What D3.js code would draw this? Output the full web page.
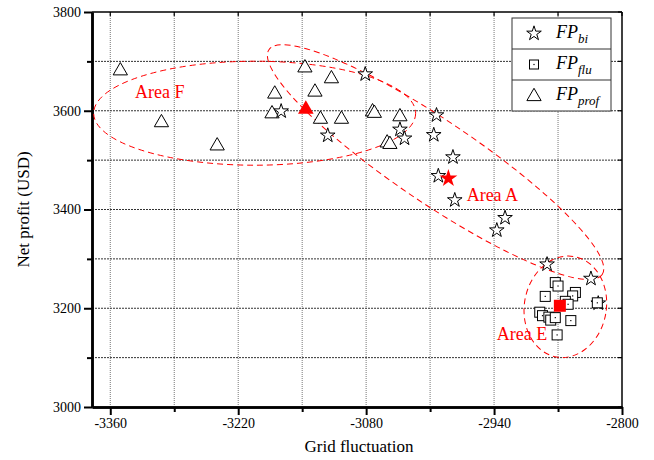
<!DOCTYPE html>
<html>
<head>
<meta charset="utf-8">
<script src="https://cdn.jsdelivr.net/npm/d3@7"></script>
<style>
  html, body { margin: 0; padding: 0; background: #fff; }
  svg { display: block; }
  text { font-family: "Liberation Serif", "Times New Roman", serif; }
</style>
</head>
<body>
<svg id="chart" width="654" height="460"></svg>
<script>
// ---------- data ----------
const biX   = [-3173, -3122, -3081, -3043, -3038, -3003, -3006, -2985, -3001, -2983, -2928, -2937, -2882, -2834, -2826];
const biY   = [ 3601,  3552,  3676,  3564,  3546,  3593,  3553,  3508,  3470,  3421,  3385,  3360,  3291,  3262,  3212];
const fluX  = [-2873, -2870, -2851, -2854, -2884, -2862, -2859, -2827, -2890, -2887, -2880, -2878, -2873, -2856, -2871];
const fluY  = [ 3252,  3245,  3232,  3225,  3224,  3214,  3208,  3211,  3192,  3185,  3182,  3176,  3181,  3175,  3146];
const profX = [-3349, -3304, -3243, -3180, -3183, -3147, -3136, -3118, -3130, -3107, -3073, -3071, -3043, -3057, -3054];
const profY = [ 3684,  3579,  3532,  3637,  3597,  3690,  3641,  3668,  3586,  3586,  3601,  3598,  3591,  3538,  3535];
// centroids (red filled markers)
const centroidBi   = [-2990, 3465];
const centroidFlu  = [-2868, 3205];
const centroidProf = [-3146, 3606];

const xMajorTicks = [-3360, -3220, -3080, -2940, -2800];
const xMinorTicks = [-3290, -3150, -3010, -2870];
const yMajorTicks = [3000, 3200, 3400, 3600, 3800];
const yMinorTicks = [3100, 3300, 3500, 3700];
const xGrid = [-3360, -3290, -3220, -3150, -3080, -3010, -2940, -2870];
const yGrid = [3100, 3200, 3300, 3400, 3500, 3600, 3700];

const areaNames   = ["Area F", "Area A", "Area E"];
const areaCenters = [[-3202, 3595], [-3004, 3496], [-2862, 3203]];
const areaLabelAt = [[-3333, 3626], [-2970, 3417], [-2937, 3136]];

const legendLabels = [["FP", "bi"], ["FP", "flu"], ["FP", "prof"]];
const xTitle = "Grid fluctuation";
const yTitle = "Net profit (USD)";

// ---------- layout ----------
const svg = d3.select("#chart");
const L = 92, R = 622, T = 12, B = 407;
const x = d3.scaleLinear().domain([-3380, -2800]).range([L, R]);
const y = d3.scaleLinear().domain([3000, 3800]).range([B, T]);
const RED = "#ff0000";

// grid
svg.append("g").selectAll("line").data(xGrid).join("line")
  .attr("x1", d => x(d)).attr("x2", d => x(d)).attr("y1", T).attr("y2", B)
  .attr("stroke", "#777").attr("stroke-width", 1).attr("stroke-dasharray", "1,1");
svg.append("g").selectAll("line").data(yGrid).join("line")
  .attr("x1", L).attr("x2", R).attr("y1", d => y(d)).attr("y2", d => y(d))
  .attr("stroke", "#333").attr("stroke-width", 1).attr("stroke-dasharray", "2,1");

// frame top/right
svg.append("line").attr("x1", L).attr("x2", R).attr("y1", T).attr("y2", T).attr("stroke", "#000").attr("stroke-width", 1.5);
svg.append("line").attr("x1", R).attr("x2", R).attr("y1", T).attr("y2", B).attr("stroke", "#000").attr("stroke-width", 1.5);
// inward mirrored ticks
svg.append("g").selectAll("line").data(xMajorTicks.concat(xMinorTicks)).join("line")
  .attr("x1", d => x(d)).attr("x2", d => x(d)).attr("y1", T).attr("y2", T + 4).attr("stroke", "#000").attr("stroke-width", 1.2);
svg.append("g").selectAll("line").data(yMajorTicks.concat(yMinorTicks)).join("line")
  .attr("x1", R).attr("x2", R - 4).attr("y1", d => y(d)).attr("y2", d => y(d)).attr("stroke", "#000").attr("stroke-width", 1.2);

// axes
const xAxis = svg.append("g").attr("transform", `translate(0,${B})`)
  .call(d3.axisBottom(x).tickValues(xMajorTicks).tickSize(8).tickPadding(3).tickSizeOuter(0).tickFormat(d3.format("d")));
const xAxisMinor = svg.append("g").attr("transform", `translate(0,${B})`)
  .call(d3.axisBottom(x).tickValues(xMinorTicks).tickSize(5).tickSizeOuter(0).tickFormat(""));
const yAxis = svg.append("g").attr("transform", `translate(${L},0)`)
  .call(d3.axisLeft(y).tickValues(yMajorTicks).tickSize(8).tickPadding(3).tickSizeOuter(0).tickFormat(d3.format("d")));
const yAxisMinor = svg.append("g").attr("transform", `translate(${L},0)`)
  .call(d3.axisLeft(y).tickValues(yMinorTicks).tickSize(5).tickSizeOuter(0).tickFormat(""));
[xAxis, xAxisMinor, yAxis, yAxisMinor].forEach(g => {
  g.attr("font-family", "Liberation Serif");
  g.select(".domain").attr("stroke", "#000").attr("stroke-width", 2.5);
  g.selectAll(".tick line").attr("stroke", "#000").attr("stroke-width", 2);
  g.selectAll("text").attr("font-family", "Liberation Serif").attr("font-size", 14).attr("fill", "#000");
});
// x labels use hyphen-minus like the reference
xAxis.selectAll("text").text(d => String(d));

// titles
svg.append("text").attr("x", (L + R) / 2 + 2).attr("y", 452).attr("text-anchor", "middle")
  .attr("font-size", 17).text(xTitle);
svg.append("text").attr("transform", `translate(29,${(T + B) / 2}) rotate(-90)`).attr("text-anchor", "middle")
  .attr("font-size", 17).text(yTitle);

// ---------- area ellipses ----------
const ellipseShape = [
  { rx: 161, ry: 52, rot: 0 },
  { rx: 201, ry: 41, rot: 34 },
  { rx: 41,  ry: 51, rot: 10 }
];
const ell = svg.append("g");
areaCenters.forEach((c, i) => {
  const s = ellipseShape[i];
  ell.append("ellipse")
    .attr("transform", `translate(${x(c[0])},${y(c[1])}) rotate(${s.rot})`)
    .attr("rx", s.rx).attr("ry", s.ry)
    .attr("fill", "none").attr("stroke", RED).attr("stroke-width", 1)
    .attr("stroke-dasharray", "6,4");
});
svg.append("g").selectAll("text").data(areaNames).join("text")
  .attr("x", (d, i) => x(areaLabelAt[i][0])).attr("y", (d, i) => y(areaLabelAt[i][1]))
  .attr("font-size", 18).attr("fill", RED).text(d => d);

// ---------- markers ----------
const starPath = d3.symbol().type(d3.symbolStar).size(66)();
const triPath  = d3.symbol().type(d3.symbolTriangle).size(88)();
const g = svg.append("g");

// triangles
g.selectAll("path.tri").data(d3.zip(profX, profY)).join("path").attr("class", "tri")
  .attr("d", triPath).attr("transform", d => `translate(${x(d[0])},${y(d[1]) + 1.5})`)
  .attr("fill", "#fff").attr("stroke", "#000").attr("stroke-width", 1);
// stars
g.selectAll("path.star").data(d3.zip(biX, biY)).join("path").attr("class", "star")
  .attr("d", starPath).attr("transform", d => `translate(${x(d[0])},${y(d[1]) + 1})`)
  .attr("fill", "#fff").attr("stroke", "#000").attr("stroke-width", 1);
// squares
const sq = g.selectAll("g.sq").data(d3.zip(fluX, fluY)).join("g").attr("class", "sq")
  .attr("transform", d => `translate(${x(d[0])},${y(d[1])})`);
sq.append("rect").attr("x", -5).attr("y", -5).attr("width", 10).attr("height", 10)
  .attr("fill", "#fff").attr("stroke", "#000").attr("stroke-width", 1);
sq.append("rect").attr("x", -0.6).attr("y", -0.6).attr("width", 1.2).attr("height", 1.2).attr("fill", "#000");

// centroids
g.append("path").attr("d", d3.symbol().type(d3.symbolTriangle).size(105)())
  .attr("transform", `translate(${x(centroidProf[0])},${y(centroidProf[1]) + 1.5})`).attr("fill", RED);
g.append("path").attr("d", d3.symbol().type(d3.symbolStar).size(100)())
  .attr("transform", `translate(${x(centroidBi[0])},${y(centroidBi[1]) + 1})`).attr("fill", RED);
g.append("rect").attr("x", x(centroidFlu[0]) - 6).attr("y", y(centroidFlu[1]) - 6)
  .attr("width", 12).attr("height", 12).attr("fill", RED);

// ---------- legend ----------
const lg = svg.append("g");
const lx = 512, ly = 18, lw = 99, rowH = 31;
lg.append("rect").attr("x", lx).attr("y", ly).attr("width", lw).attr("height", rowH * 3)
  .attr("fill", "#fff").attr("stroke", "#333").attr("stroke-width", 1);
[1, 2].forEach(k => lg.append("line").attr("x1", lx).attr("x2", lx + lw)
  .attr("y1", ly + rowH * k).attr("y2", ly + rowH * k).attr("stroke", "#333").attr("stroke-width", 1));
const legendSymbols = ["star", "square", "tri"];
legendLabels.forEach((lab, i) => {
  const cy = ly + rowH * i + rowH / 2;
  const sx = lx + 22;
  if (legendSymbols[i] === "star") {
    lg.append("path").attr("d", starPath).attr("transform", `translate(${sx},${cy})`)
      .attr("fill", "#fff").attr("stroke", "#000");
  } else if (legendSymbols[i] === "square") {
    lg.append("rect").attr("x", sx - 4.5).attr("y", cy - 4.5).attr("width", 9).attr("height", 9)
      .attr("fill", "#fff").attr("stroke", "#000");
    lg.append("rect").attr("x", sx - 0.6).attr("y", cy - 0.6).attr("width", 1.2).attr("height", 1.2).attr("fill", "#000");
  } else {
    lg.append("path").attr("d", triPath).attr("transform", `translate(${sx},${cy + 1})`)
      .attr("fill", "#fff").attr("stroke", "#000");
  }
  const t = lg.append("text").attr("x", lx + 44).attr("y", cy + 4).attr("font-size", 18).attr("font-style", "italic");
  t.append("tspan").text(lab[0]);
  t.append("tspan").attr("font-size", 13).attr("dy", 5).text(lab[1]);
});
</script>
</body>
</html>
